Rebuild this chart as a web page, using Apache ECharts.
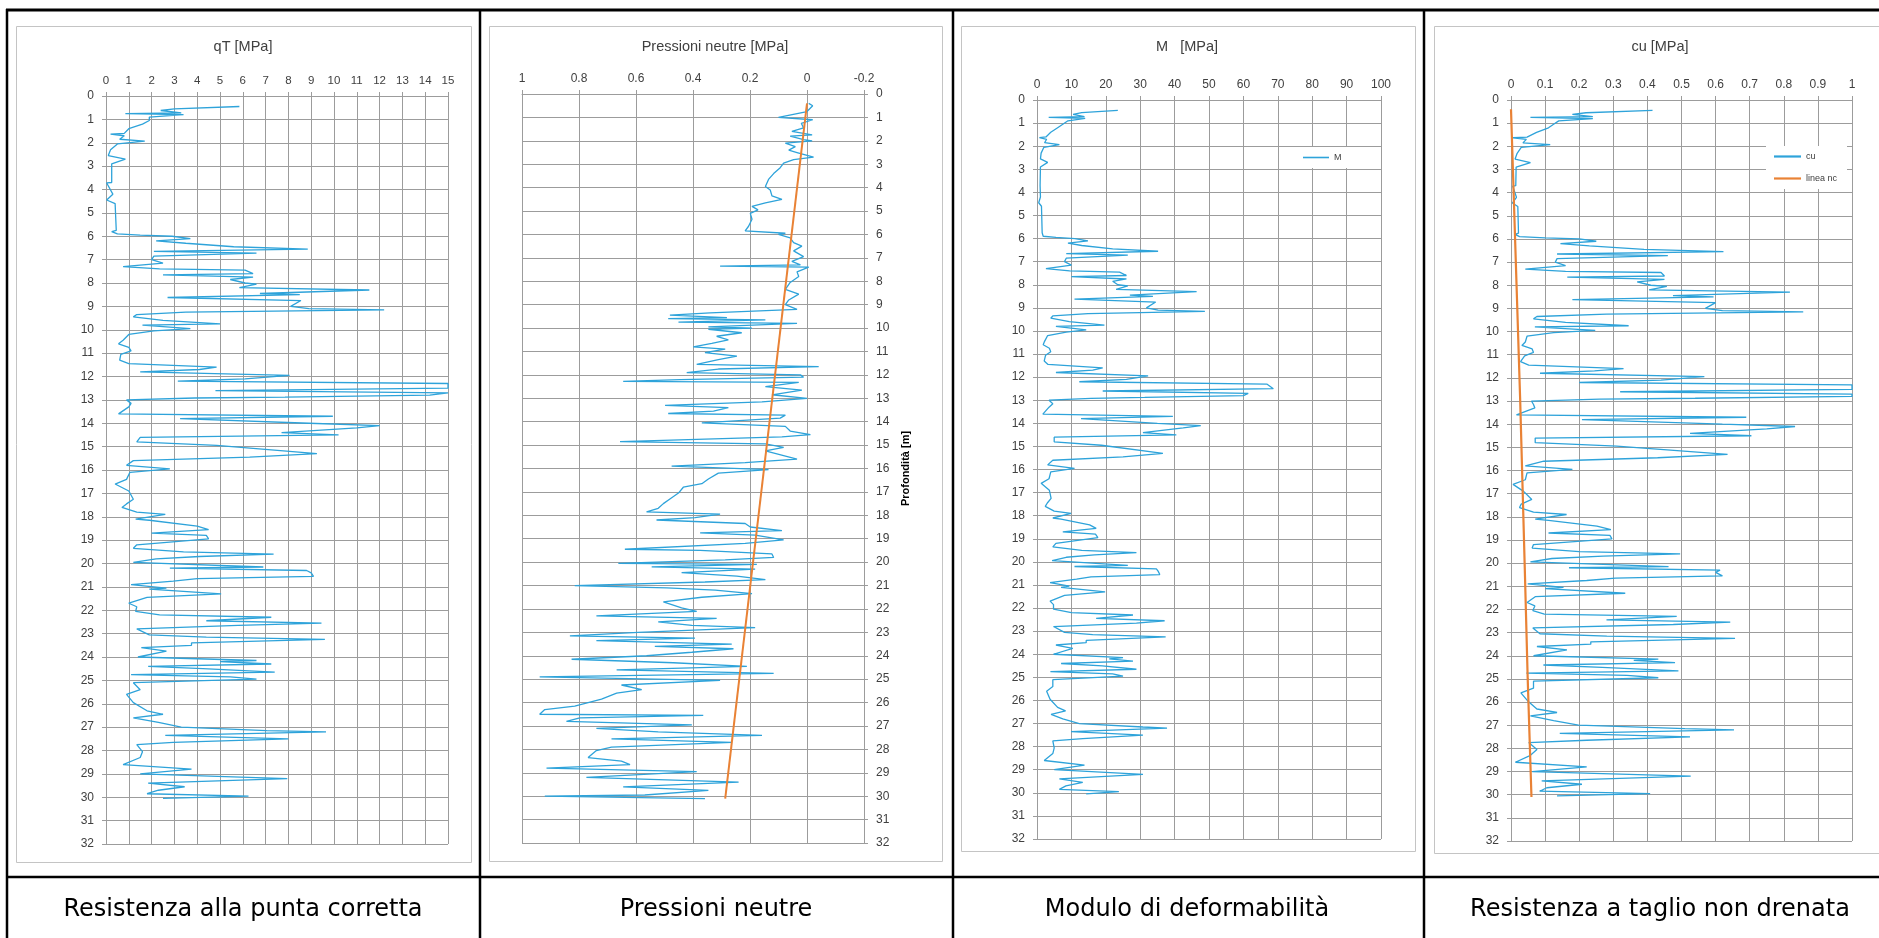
<!DOCTYPE html>
<html>
<head>
<meta charset="utf-8">
<script src="https://cdn.jsdelivr.net/npm/echarts@6/dist/echarts.min.js"></script>
<style>
html,body{margin:0;padding:0;background:#fff;}
#c{width:1879px;height:938px;}
</style>
</head>
<body>
<div id="c"></div>
<script>
// ---------------- DATA ----------------
// shared depth list [m] for qT, M and cu profiles
const depth = [0.45,0.55,0.62,0.72,0.75,0.8,0.9,1.05,1.2,1.4,1.6,1.63,1.7,1.85,1.93,2.05,2.3,2.55,2.7,2.9,
3.7,3.72,4.2,4.45,4.6,5.75,5.8,5.9,5.95,6.0,6.1,6.2,6.3,6.45,6.55,6.65,6.72,6.85,7.0,7.15,
7.3,7.4,7.45,7.6,7.65,7.75,7.85,8.0,8.05,8.2,8.3,8.45,8.5,8.62,8.75,9.0,9.1,9.15,9.25,9.35,
9.45,9.6,9.75,9.8,9.95,10.05,10.2,10.45,10.6,10.75,10.9,11.05,11.3,11.45,11.6,11.7,11.8,11.95,12.1,12.2,
12.3,12.5,12.6,12.7,12.8,12.88,12.92,13.0,13.15,13.3,13.6,13.7,13.8,14.0,14.1,14.2,14.4,14.5,14.6,14.8,
14.95,15.3,15.45,15.6,15.8,15.95,16.1,16.4,16.6,16.9,17.25,17.45,17.6,17.8,17.9,18.1,18.15,18.4,18.55,18.7,
18.8,18.95,19.2,19.35,19.5,19.6,19.7,19.8,19.95,20.15,20.2,20.3,20.4,20.55,20.65,20.75,20.9,21.05,21.1,21.3,
21.45,21.7,21.85,22.05,22.2,22.3,22.45,22.55,22.65,22.8,23.05,23.15,23.25,23.4,23.5,23.6,23.75,24.0,24.15,24.2,
24.3,24.4,24.5,24.65,24.75,24.85,24.95,25.1,25.4,25.6,25.95,26.3,26.45,26.6,26.8,27.0,27.15,27.2,27.35,27.5,
27.65,27.75,28.05,28.3,28.6,28.8,29.0,29.2,29.4,29.55,29.7,29.85,29.95,30.05];

// qT [MPa]
const qT = [5.85,3.0,2.4,3.3,0.85,3.4,1.9,1.9,1.6,1.0,0.8,0.2,0.8,0.6,1.7,0.5,0.2,0.1,0.85,0.25,
0.25,0.03,0.3,0.03,0.4,0.45,0.25,0.5,1.5,2.9,3.7,2.2,3.5,5.6,8.85,2.1,6.6,2.1,2.0,2.5,
0.75,2.35,6.1,6.45,2.5,6.45,5.45,6.1,6.6,5.85,11.55,6.75,8.5,2.7,8.55,8.1,8.9,12.2,3.5,1.35,
1.2,2.5,5.0,1.6,3.7,2.1,1.0,0.75,0.55,1.0,1.1,0.65,0.6,1.0,4.85,4.1,1.5,8.05,6.1,3.15,
15,15,4.8,15,14.2,7.85,3.9,0.9,1.1,1.0,0.55,9.95,3.25,8.9,12.0,11.0,7.7,10.2,1.5,1.35,
4.85,9.25,6.3,1.2,0.9,2.8,1.05,0.9,0.4,1.0,1.2,0.9,0.7,1.35,2.6,1.3,1.9,4.0,4.5,2.0,
4.4,4.5,1.35,1.2,3.4,7.35,4.1,2.2,1.2,6.9,2.8,8.8,9.0,9.1,4.0,2.95,1.1,2.65,1.9,5.05,
1.8,1.0,1.35,1.3,2.35,7.25,4.4,9.45,5.8,1.35,1.9,4.4,9.6,3.75,3.75,1.55,2.65,1.4,6.6,5.0,
7.25,1.85,4.25,7.4,1.1,5.45,6.6,1.2,1.5,0.9,1.2,1.8,2.5,1.2,2.3,3.3,7.05,9.65,2.6,8.0,
2.95,1.35,1.6,1.5,0.75,3.75,1.5,7.95,1.85,3.45,2.3,1.8,6.25,2.5];

// M [MPa]
const M = [23.5,13.0,10.5,13.8,3.4,14.0,9.0,7.5,6.0,4.0,2.6,0.7,2.8,2.2,6.5,2.0,1.2,1.0,3.1,1.0,
0.9,0.5,1.0,0.5,1.3,1.5,1.0,1.8,5.5,11.0,14.8,9.0,13.0,22.0,35.2,8.5,26.4,8.5,8.0,10.0,
2.6,9.5,24.0,26.0,10.0,26.0,22.0,23.5,26.4,23.0,46.4,27.0,33.7,10.9,34.5,31.8,35.2,48.8,14.8,4.6,
4.0,9.4,19.6,5.5,14.3,8.5,3.1,2.2,1.8,3.6,4.0,2.5,2.1,3.2,19.1,16.2,5.5,32.3,26.0,12.3,
66.8,68.7,19.1,61.4,60.0,31.3,15.7,3.5,4.6,3.5,1.7,39.5,12.8,35.0,47.6,42.5,30.8,40.5,5.0,5.0,
18.7,36.6,25.0,4.6,3.1,10.9,4.0,3.5,1.2,3.6,4.1,3.0,2.4,5.0,9.9,4.6,7.0,15.3,17.2,7.5,
17.0,17.7,5.5,4.6,13.0,28.9,16.7,8.5,4.4,26.4,10.9,34.7,35.2,35.7,15.7,11.5,3.8,9.4,7.0,19.8,
8.0,3.8,4.8,4.8,10.0,27.9,17.2,37.1,28.9,4.8,8.0,16.2,37.4,14.3,14.3,5.5,10.4,4.8,25.0,21.0,
27.9,7.0,19.0,28.9,3.9,22.0,25.0,4.6,4.6,2.8,3.8,6.0,8.3,4.1,7.5,12.3,30.8,37.8,9.9,30.8,
13.3,4.6,5.0,4.6,2.1,13.8,5.0,30.8,6.5,13.3,8.4,6.5,23.8,14.3];

// cu [MPa]
const cu = [0.415,0.22,0.18,0.24,0.057,0.24,0.14,0.125,0.11,0.075,0.047,0.006,0.045,0.035,0.115,0.03,0.018,0.012,0.057,0.015,
0.014,0.005,0.016,0.004,0.02,0.022,0.012,0.025,0.1,0.2,0.25,0.145,0.23,0.39,0.623,0.135,0.46,0.135,0.13,0.16,
0.042,0.16,0.44,0.45,0.165,0.45,0.37,0.41,0.457,0.405,0.818,0.475,0.594,0.18,0.6,0.57,0.62,0.857,0.28,0.076,
0.066,0.16,0.345,0.07,0.247,0.125,0.047,0.042,0.032,0.062,0.066,0.04,0.028,0.052,0.33,0.245,0.085,0.567,0.44,0.2,
1.0,1.0,0.32,1.0,1.0,0.54,0.26,0.06,0.066,0.07,0.016,0.69,0.208,0.62,0.833,0.75,0.525,0.705,0.071,0.071,
0.31,0.635,0.43,0.096,0.042,0.18,0.047,0.042,0.006,0.037,0.061,0.03,0.025,0.066,0.163,0.071,0.11,0.252,0.293,0.11,
0.29,0.296,0.066,0.062,0.2,0.496,0.27,0.12,0.057,0.462,0.17,0.613,0.6,0.62,0.306,0.222,0.049,0.154,0.1,0.335,
0.071,0.047,0.07,0.064,0.098,0.486,0.28,0.643,0.476,0.064,0.085,0.281,0.657,0.234,0.234,0.076,0.164,0.066,0.432,0.36,
0.481,0.095,0.267,0.491,0.045,0.34,0.432,0.066,0.066,0.029,0.049,0.076,0.135,0.057,0.125,0.198,0.51,0.654,0.143,0.525,
0.222,0.052,0.076,0.057,0.013,0.222,0.062,0.527,0.09,0.208,0.105,0.084,0.408,0.135];

// pore pressure u2 [MPa]
const depthU = [0.4,0.5,0.75,1.0,1.1,1.25,1.45,1.6,1.75,1.8,1.95,2.0,2.1,2.25,2.4,2.5,2.7,2.8,2.95,3.15,
3.4,3.65,3.95,4.1,4.35,4.5,4.65,4.8,4.95,5.1,5.35,5.65,5.85,5.95,6.0,6.15,6.35,6.5,6.7,6.95,
7.15,7.3,7.35,7.4,7.6,7.8,8.05,8.35,8.55,8.8,9.0,9.2,9.35,9.45,9.55,9.6,9.65,9.75,9.8,9.95,
10.0,10.05,10.2,10.35,10.5,10.65,10.8,10.9,11.05,11.2,11.35,11.55,11.65,11.75,11.9,12.0,12.1,12.2,12.28,12.32,
12.5,12.65,12.85,13.0,13.15,13.3,13.4,13.55,13.65,13.72,13.85,14.05,14.2,14.4,14.55,14.65,14.85,14.95,15.1,15.25,
15.6,15.75,15.9,16.05,16.2,16.45,16.65,16.8,17.05,17.3,17.5,17.7,17.85,17.95,18.1,18.2,18.35,18.5,18.65,18.75,
18.85,19.05,19.2,19.45,19.5,19.65,19.8,19.9,20.05,20.1,20.2,20.3,20.45,20.6,20.75,20.85,21.0,21.1,21.2,21.35,
21.5,21.7,21.95,22.1,22.3,22.4,22.55,22.7,22.8,23.0,23.15,23.25,23.35,23.5,23.6,23.7,23.85,24.0,24.15,24.3,
24.45,24.6,24.75,24.9,25.05,25.25,25.45,25.6,25.85,26.15,26.3,26.5,26.55,26.65,26.8,26.95,27.1,27.25,27.4,27.55,
27.7,27.9,28.05,28.35,28.5,28.65,28.8,28.95,29.2,29.4,29.6,29.75,29.95,30.0,30.1];
const u2 = [-0.006,-0.02,0.0,0.1,-0.02,0.02,0.012,0.053,-0.018,0.059,0.012,-0.018,0.076,0.041,0.064,0.035,-0.023,0.047,0.082,0.094,
0.117,0.135,0.146,0.129,0.123,0.088,0.146,0.193,0.172,0.199,0.193,0.205,0.217,0.076,0.1,0.059,0.047,0.018,0.047,0.012,
0.053,0.023,0.305,-0.006,0.035,0.029,0.059,0.076,0.029,0.064,0.076,0.035,0.34,0.481,0.281,0.487,0.146,0.451,0.035,0.346,
0.193,0.346,0.229,0.317,0.276,0.334,0.399,0.287,0.358,0.246,0.311,0.387,-0.041,0.311,0.422,0.023,0.012,0.445,0.645,0.029,
0.146,0.018,0.123,0.0,0.158,0.498,0.276,0.328,0.487,0.076,0.094,0.369,0.076,0.059,-0.012,0.088,0.656,0.146,0.082,0.146,
0.035,0.217,0.475,0.135,0.311,0.346,0.369,0.434,0.451,0.481,0.504,0.522,0.563,0.305,0.393,0.528,0.217,0.199,0.088,0.375,
0.182,0.082,0.217,0.639,0.375,0.123,0.117,0.287,0.662,0.176,0.545,0.182,0.44,0.246,0.146,0.358,0.815,0.492,0.322,0.193,
0.369,0.504,0.44,0.387,0.739,0.317,0.522,0.404,0.182,0.592,0.832,0.393,0.739,0.264,0.534,0.258,0.404,0.563,0.826,0.469,
0.211,0.668,0.117,0.938,0.305,0.651,0.58,0.668,0.721,0.815,0.92,0.938,0.364,0.797,0.844,0.404,0.739,0.522,0.158,0.686,
0.264,0.686,0.739,0.768,0.651,0.621,0.914,0.387,0.774,0.24,0.645,0.346,0.569,0.92,0.358];

// hydrostatic line (Pressioni neutre panel)
const depthU0 = [0.4, 30.1];
const u0 = [0.0, 0.287];

// "linea nc" (cu panel)
const depthNc = [0.4, 13, 20, 25, 30.1];
const nc = [0.0, 0.027, 0.04, 0.049, 0.06];

// texts
const titles = ['qT [MPa]', 'Pressioni neutre [MPa]', 'M   [MPa]', 'cu [MPa]'];
const captions = ['Resistenza alla punta corretta', 'Pressioni neutre', 'Modulo di deformabilità', 'Resistenza a taglio non drenata'];
const depthName = 'Profondità [m]';

// ---------------- STYLE ----------------
const BLUE = '#2ea3da';
const ORANGE = '#e98235';
const GRIDC = '#9c9c9c';
const LBL = '#404040';
const FONT = 'Liberation Sans, Arial, sans-serif';

function xAx(gi, min, max, interval, extra) {
  return Object.assign({
    type: 'value', gridIndex: gi, position: 'top', min: min, max: max, interval: interval,
    axisLine: {show: true, onZero: false, lineStyle: {color: GRIDC, width: 1}},
    axisTick: {show: true, length: 4, lineStyle: {color: GRIDC}},
    axisLabel: {color: LBL, fontSize: 12, fontFamily: FONT, margin: 9, showMinLabel: true, showMaxLabel: true},
    splitLine: {show: true, showMinLine: true, showMaxLine: true, lineStyle: {color: GRIDC, width: 1}}
  }, extra || {});
}
function yAx(gi, extra) {
  return Object.assign({
    type: 'value', gridIndex: gi, inverse: true, min: 0, max: 32, interval: 1, position: 'left',
    axisLine: {show: true, onZero: false, lineStyle: {color: GRIDC, width: 1}},
    axisTick: {show: true, length: 4, lineStyle: {color: GRIDC}},
    axisLabel: {color: LBL, fontSize: 12, fontFamily: FONT, margin: 12, showMinLabel: true, showMaxLabel: true},
    splitLine: {show: true, showMinLine: true, showMaxLine: true, lineStyle: {color: GRIDC, width: 1}}
  }, extra || {});
}
function prof(name, gi, xs, ds, color, width) {
  return {
    type: 'line', name: name, xAxisIndex: gi, yAxisIndex: gi,
    data: ds.map((d, i) => [xs[i], d]),
    symbol: 'none', showSymbol: false, smooth: false, clip: true, animation: false,
    lineStyle: {color: color, width: width}, itemStyle: {color: color}
  };
}

const chart = echarts.init(document.getElementById('c'), null, {renderer: 'canvas'});

const titleX = [243, 715, 1187, 1660];
const capX = [243, 716, 1187, 1660];

const graphic = [];
// chart-area frames
[[16, 26, 455, 836], [489, 26, 453, 835], [961, 26, 454, 825], [1434, 26, 470, 827]].forEach(r => {
  graphic.push({type: 'rect', z: 0, silent: true, shape: {x: r[0] + 0.5, y: r[1] + 0.5, width: r[2], height: r[3]},
    style: {fill: null, stroke: '#c4c4c4', lineWidth: 1}});
});
// table lines
const tl = (x1, y1, x2, y2, w) => graphic.push({type: 'line', z: 10, silent: true, shape: {x1: x1, y1: y1, x2: x2, y2: y2}, style: {stroke: '#000', lineWidth: w}});
tl(6, 10, 1879, 10, 3);
tl(7, 9, 7, 938, 2.5);
tl(6, 877, 1879, 877, 2.5);
tl(480, 9, 480, 938, 2.5);
tl(953, 9, 953, 938, 2.5);
tl(1424, 9, 1424, 938, 2.5);
// titles
titles.forEach((t, i) => graphic.push({type: 'text', z: 10, silent: true,
  style: {text: t, x: titleX[i], y: 47, align: 'center', verticalAlign: 'middle', fontSize: 14.5, fontFamily: FONT, fill: LBL}}));
// captions
captions.forEach((t, i) => graphic.push({type: 'text', z: 10, silent: true,
  style: {text: t, x: capX[i], y: 910, align: 'center', verticalAlign: 'middle', fontSize: 24, fontFamily: 'DejaVu Sans, sans-serif', fill: '#000'}}));

const legText = {fontSize: 9, color: LBL, fontFamily: FONT};
const option = {
  animation: false,
  backgroundColor: '#fff',
  grid: [
    {left: 106, top: 96, width: 342, height: 748},
    {left: 522, top: 94, width: 342, height: 749},
    {left: 1037, top: 100, width: 344, height: 739},
    {left: 1511, top: 100, width: 341, height: 741}
  ],
  xAxis: [
    xAx(0, 0, 15, 1, {axisLabel: {color: LBL, fontSize: 11.5, fontFamily: FONT, margin: 9}}),
    xAx(1, -0.2, 1, 0.2, {inverse: true}),
    xAx(2, 0, 100, 10),
    xAx(3, 0, 1, 0.1)
  ],
  yAxis: [
    yAx(0),
    yAx(1, {position: 'right', name: depthName, nameLocation: 'middle', nameRotate: 90, nameGap: 36,
      nameTextStyle: {fontWeight: 'bold', fontSize: 11, fontFamily: FONT, color: '#000'}}),
    yAx(2),
    yAx(3)
  ],
  legend: [
    {data: [{name: 'M', icon: 'rect'}], left: 1295, top: 147, orient: 'vertical', itemWidth: 26, itemHeight: 1.6, itemGap: 10,
      padding: [6, 10, 6, 8], backgroundColor: '#fff', textStyle: legText},
    {data: [{name: 'cu', icon: 'rect'}, {name: 'linea nc', icon: 'rect', itemStyle: {color: ORANGE}}],
      left: 1766, top: 146, orient: 'vertical', itemWidth: 27, itemHeight: 2.2, itemGap: 13,
      padding: [6, 10, 6, 8], backgroundColor: '#fff', textStyle: legText}
  ],
  series: [
    prof('qT', 0, qT, depth, BLUE, 1.3),
    prof('u2', 1, u2, depthU, BLUE, 1.3),
    prof('u0', 1, u0, depthU0, ORANGE, 2),
    prof('M', 2, M, depth, BLUE, 1.3),
    prof('cu', 3, cu, depth, BLUE, 1.3),
    prof('linea nc', 3, nc, depthNc, ORANGE, 2.2)
  ],
  graphic: graphic
};
chart.setOption(option);
</script>
</body>
</html>
